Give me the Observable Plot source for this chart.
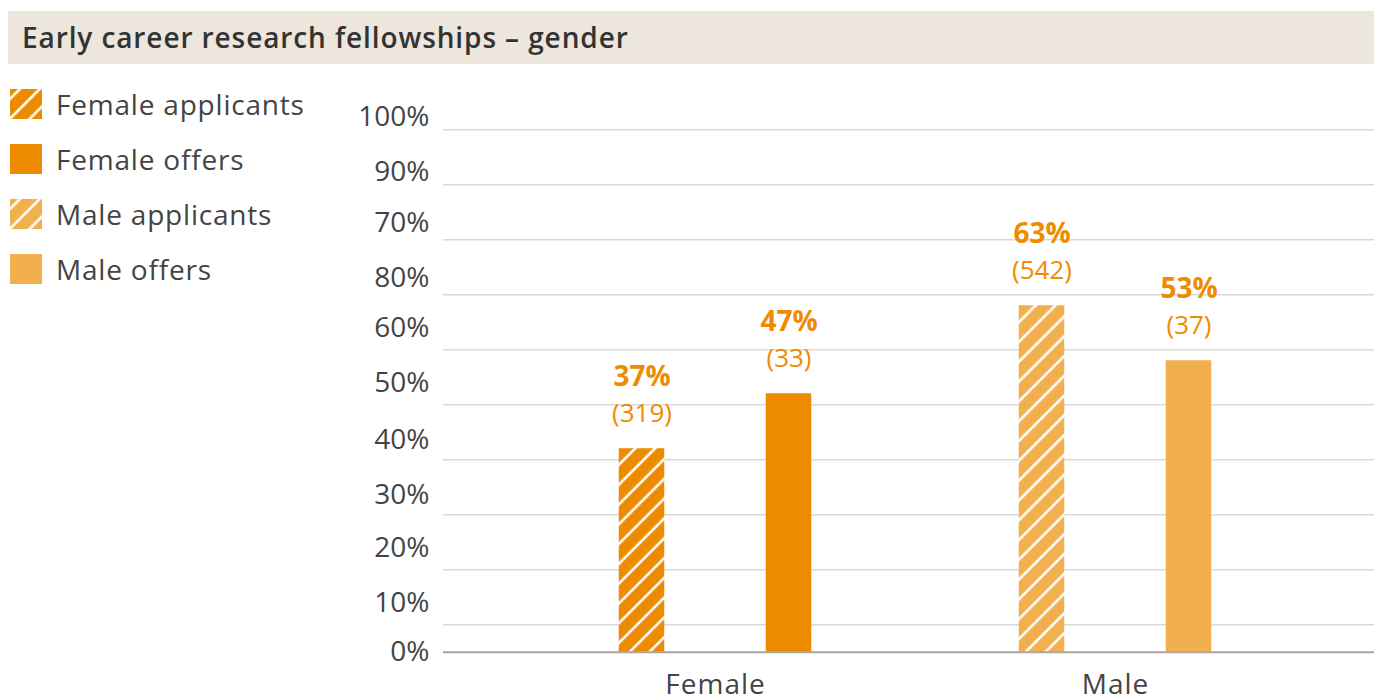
<!DOCTYPE html>
<html><head><meta charset="utf-8">
<script src="https://cdn.jsdelivr.net/npm/d3@7"></script>
<script src="https://cdn.jsdelivr.net/npm/@observablehq/plot@0.6"></script>
<style>
body{margin:0;background:#fff;font-family:"Open Sans", sans-serif;}
#wrap{position:relative;width:1374px;height:700px;overflow:hidden;}
#title{position:absolute;left:8px;top:11px;width:1366px;height:53px;background:#ede6dd;color:#333;font-weight:600;font-size:28px;letter-spacing:0.9px;line-height:53px;padding-left:14px;box-sizing:border-box;}
#legend{position:absolute;left:10px;top:89px;}
.item{display:flex;align-items:center;height:30px;margin-bottom:25px;font-size:28px;letter-spacing:0.8px;color:#444;white-space:nowrap;}
.item svg{margin-right:14px;display:block;}
#chart{position:absolute;left:0;top:64px;}
</style>
</head><body>
<div id="wrap">
  <div id="title">Early career research fellowships – gender</div>
  <div id="legend"></div>
  <div id="chart"></div>
</div>
<script>
// ---- data ----
const genders = ["Female", "Male"];
const applicantsPct = [37, 63];
const applicantsN = [319, 542];
const offersPct = [47, 53];
const offersN = [33, 37];
const seriesNames = ["Female applicants", "Female offers", "Male applicants", "Male offers"];
const yTickValues = [0, 9, 19, 28.6, 38.6, 49, 59, 68, 78, 87.3, 97.4];
const yTickLabels = ["0%", "10%", "20%", "30%", "40%", "50%", "60%", "80%", "70%", "90%", "100%"];
const gridValues = [5, 15, 25, 35, 45, 55, 65, 75, 85, 95];

// ---- styles ----
const darkOrange = "#ec8b00";
const lightOrange = "#f2af4e";
const labelColor = "#ee8b00";
const seriesFills = ["url(#hatchF)", darkOrange, "url(#hatchM)", lightOrange];

const rowsApp = genders.map((g, i) => ({gender: g, series: `${g} applicants`, pct: applicantsPct[i], n: applicantsN[i]}));
const rowsOff = genders.map((g, i) => ({gender: g, series: `${g} offers`, pct: offersPct[i], n: offersN[i]}));

const fontSize = 28;
const pctTxt = {fontSize: 28, fontWeight: 700, fill: labelColor};
const nTxt = {fontSize: 26, fill: labelColor};

const chart = Plot.plot({
  width: 1374,
  height: 636,
  marginLeft: 443,
  marginRight: 0,
  marginTop: 37.8,
  marginBottom: 48.3,
  style: {fontFamily: "'Open Sans', sans-serif", fontSize: fontSize + "px", background: "transparent", overflow: "visible"},
  x: {type: "band", domain: genders, range: [514.25, 1315.25], padding: 0, label: null},
  y: {domain: [0, 100], label: null},
  color: {type: "ordinal", domain: seriesNames, range: seriesFills},
  marks: [
    Plot.ruleY(gridValues, {stroke: "#d9d9d9", strokeWidth: 1.5}),
    Plot.barY(rowsApp, {x: "gender", y: "pct", fill: "series", insetLeft: 103.75, insetRight: 250.75}),
    Plot.barY(rowsOff, {x: "gender", y: "pct", fill: "series", insetLeft: 250.75, insetRight: 103.75}),
    Plot.ruleY([0], {stroke: "#aaa49f", strokeWidth: 2}),
    Plot.text(rowsApp, {x: "gender", y: "pct", text: d => `${d.pct}%`, dx: -73.5, dy: -72, ...pctTxt}),
    Plot.text(rowsApp, {x: "gender", y: "pct", text: d => `(${d.n})`, dx: -73.5, dy: -35, ...nTxt}),
    Plot.text(rowsOff, {x: "gender", y: "pct", text: d => `${d.pct}%`, dx: 73.5, dy: -72, ...pctTxt}),
    Plot.text(rowsOff, {x: "gender", y: "pct", text: d => `(${d.n})`, dx: 73.5, dy: -35, ...nTxt}),
    Plot.axisY({ticks: yTickValues, tickFormat: (d, i) => yTickLabels[i], tickSize: 0, tickPadding: 14, fill: "#444", fontSize, label: null}),
    Plot.axisX({tickSize: 0, tickPadding: 22, fill: "#444", fontSize, label: null})
  ]
});

function addHatch(svgSel, id, color, size) {
  const p = svgSel.append("pattern").attr("id", id)
    .attr("patternUnits", "userSpaceOnUse").attr("width", size).attr("height", size)
    .attr("patternTransform", "rotate(45)");
  p.append("rect").attr("width", size).attr("height", size).attr("fill", color);
  p.append("line").attr("x1", size / 2).attr("x2", size / 2).attr("y1", 0).attr("y2", size)
    .attr("stroke", "#fff").attr("stroke-width", 2.6);
}
const defs = d3.select(chart).insert("defs", ":first-child");
addHatch(defs, "hatchF", darkOrange, 14);
addHatch(defs, "hatchM", lightOrange, 14);
d3.select(chart).selectAll("g[aria-label='x-axis tick label'] text").style("letter-spacing", "1px");
document.getElementById("chart").appendChild(chart);

// legend
const legend = d3.select("#legend");
seriesNames.forEach((name, i) => {
  const item = legend.append("div").attr("class", "item");
  const s = item.append("svg").attr("width", 32).attr("height", 30);
  const color = i < 2 ? darkOrange : lightOrange;
  if (i % 2 === 0) {
    const d = s.append("defs");
    addHatch(d, "lg" + i, color, 14);
    s.append("rect").attr("width", 32).attr("height", 30).attr("fill", `url(#lg${i})`);
  } else {
    s.append("rect").attr("width", 32).attr("height", 30).attr("fill", color);
  }
  item.append("span").text(name);
});
</script>
</body></html>
